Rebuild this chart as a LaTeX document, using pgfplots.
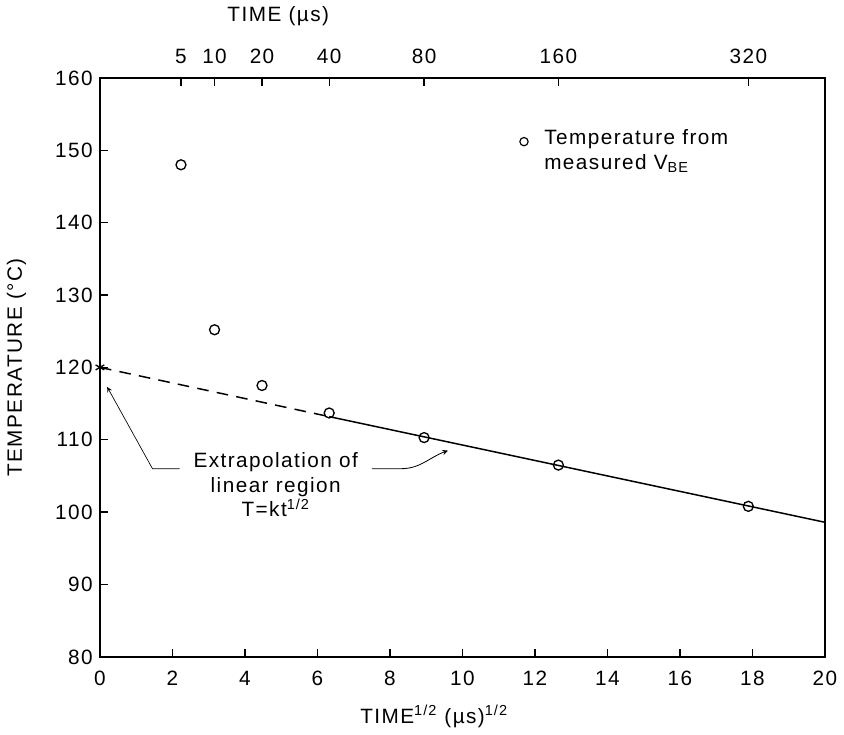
\documentclass[border=0pt]{standalone}
\usepackage{pgfplots}
\pgfplotsset{compat=1.18}
\usepackage{fontspec}
\setmainfont{Liberation Sans}[LetterSpace=7]
\begin{document}
\fontsize{12.5}{15}\selectfont
\begin{tikzpicture}
% main axis: T against sqrt(t)
\begin{axis}[
    scale only axis,
    width=437pt, height=349pt,
    xmin=0, xmax=20, ymin=80, ymax=160,
    xtick={0,2,...,20}, ytick={80,90,...,160},
    xtick pos=bottom, ytick pos=left,
    tick align=inside,
    major tick length=5pt,
    axis line style={line width=0.8pt},
    tick style={line width=0.8pt, black},
    xticklabel style={yshift=-4pt},
    /pgf/number format/assume math mode=true,
    xlabel={TIME\textsuperscript{1/2} (µs)\textsuperscript{1/2}},
    xlabel style={at={(axis description cs:0.461,-0.103)}, anchor=center},
    ylabel={TEMPERATURE (°C)},
    ylabel style={at={(axis description cs:-0.115,0.5)}, anchor=center},
    clip=false,
]
% measured points
\addplot[only marks, mark=o, mark size=3pt, mark options={line width=0.8pt}]
coordinates {
    (2.236,148.0)
    (3.162,125.2)
    (4.472,117.5)
    (6.325,113.7)
    (8.944,110.3)
    (12.649,106.5)
    (17.889,100.8)
};
% extrapolation (dashed) and linear region (solid)
\addplot[line width=0.9pt, dash pattern=on 7pt off 5pt] coordinates {(0,120.0) (6.325,113.2)};
\addplot[line width=0.9pt] coordinates {(6.325,113.2) (20,98.6)};
\addplot[only marks, mark=asterisk, mark size=3pt, mark options={line width=0.8pt}] coordinates {(0,120)};
% legend symbol
\addplot[only marks, mark=o, mark size=2.5pt, mark options={line width=0.7pt}] coordinates {(11.7,151.2)};
\node[anchor=north west, align=left, inner sep=0pt] at (axis cs:12.25,152.9)
    {Temperature from\\measured V\textsubscript{BE}};
% annotation
\node[align=center, inner sep=1pt] (ann) at (axis cs:4.85,103.8)
    {Extrapolation of\\linear region\\T=kt\textsuperscript{1/2}};
\draw[line width=0.4pt, -stealth] (axis cs:2.2,106.0) -- (axis cs:1.45,106.0) -- (axis cs:0.2,117.3);
\draw[line width=0.5pt, -stealth] (axis cs:7.5,106.0) -- (axis cs:8.3,106.0) to[out=0, in=200] (axis cs:9.6,108.5);
\end{axis}
% top axis: time in microseconds
\begin{axis}[
    scale only axis,
    width=437pt, height=349pt,
    xmin=0, xmax=20, ymin=80, ymax=160,
    axis x line*=top, axis y line=none,
    tick align=inside,
    major tick length=5pt,
    axis line style={line width=0.8pt},
    tick style={line width=0.8pt, black},
    xtick={2.236,3.162,4.472,6.325,8.944,12.649,17.889},
    xticklabels={5,10,20,40,80,160,320},
    xticklabel style={yshift=4pt},
    /pgf/number format/assume math mode=true,
    xlabel={TIME (µs)},
    xlabel style={at={(axis description cs:0.246,1.106)}, anchor=center},
]
\end{axis}
\end{tikzpicture}
\end{document}
